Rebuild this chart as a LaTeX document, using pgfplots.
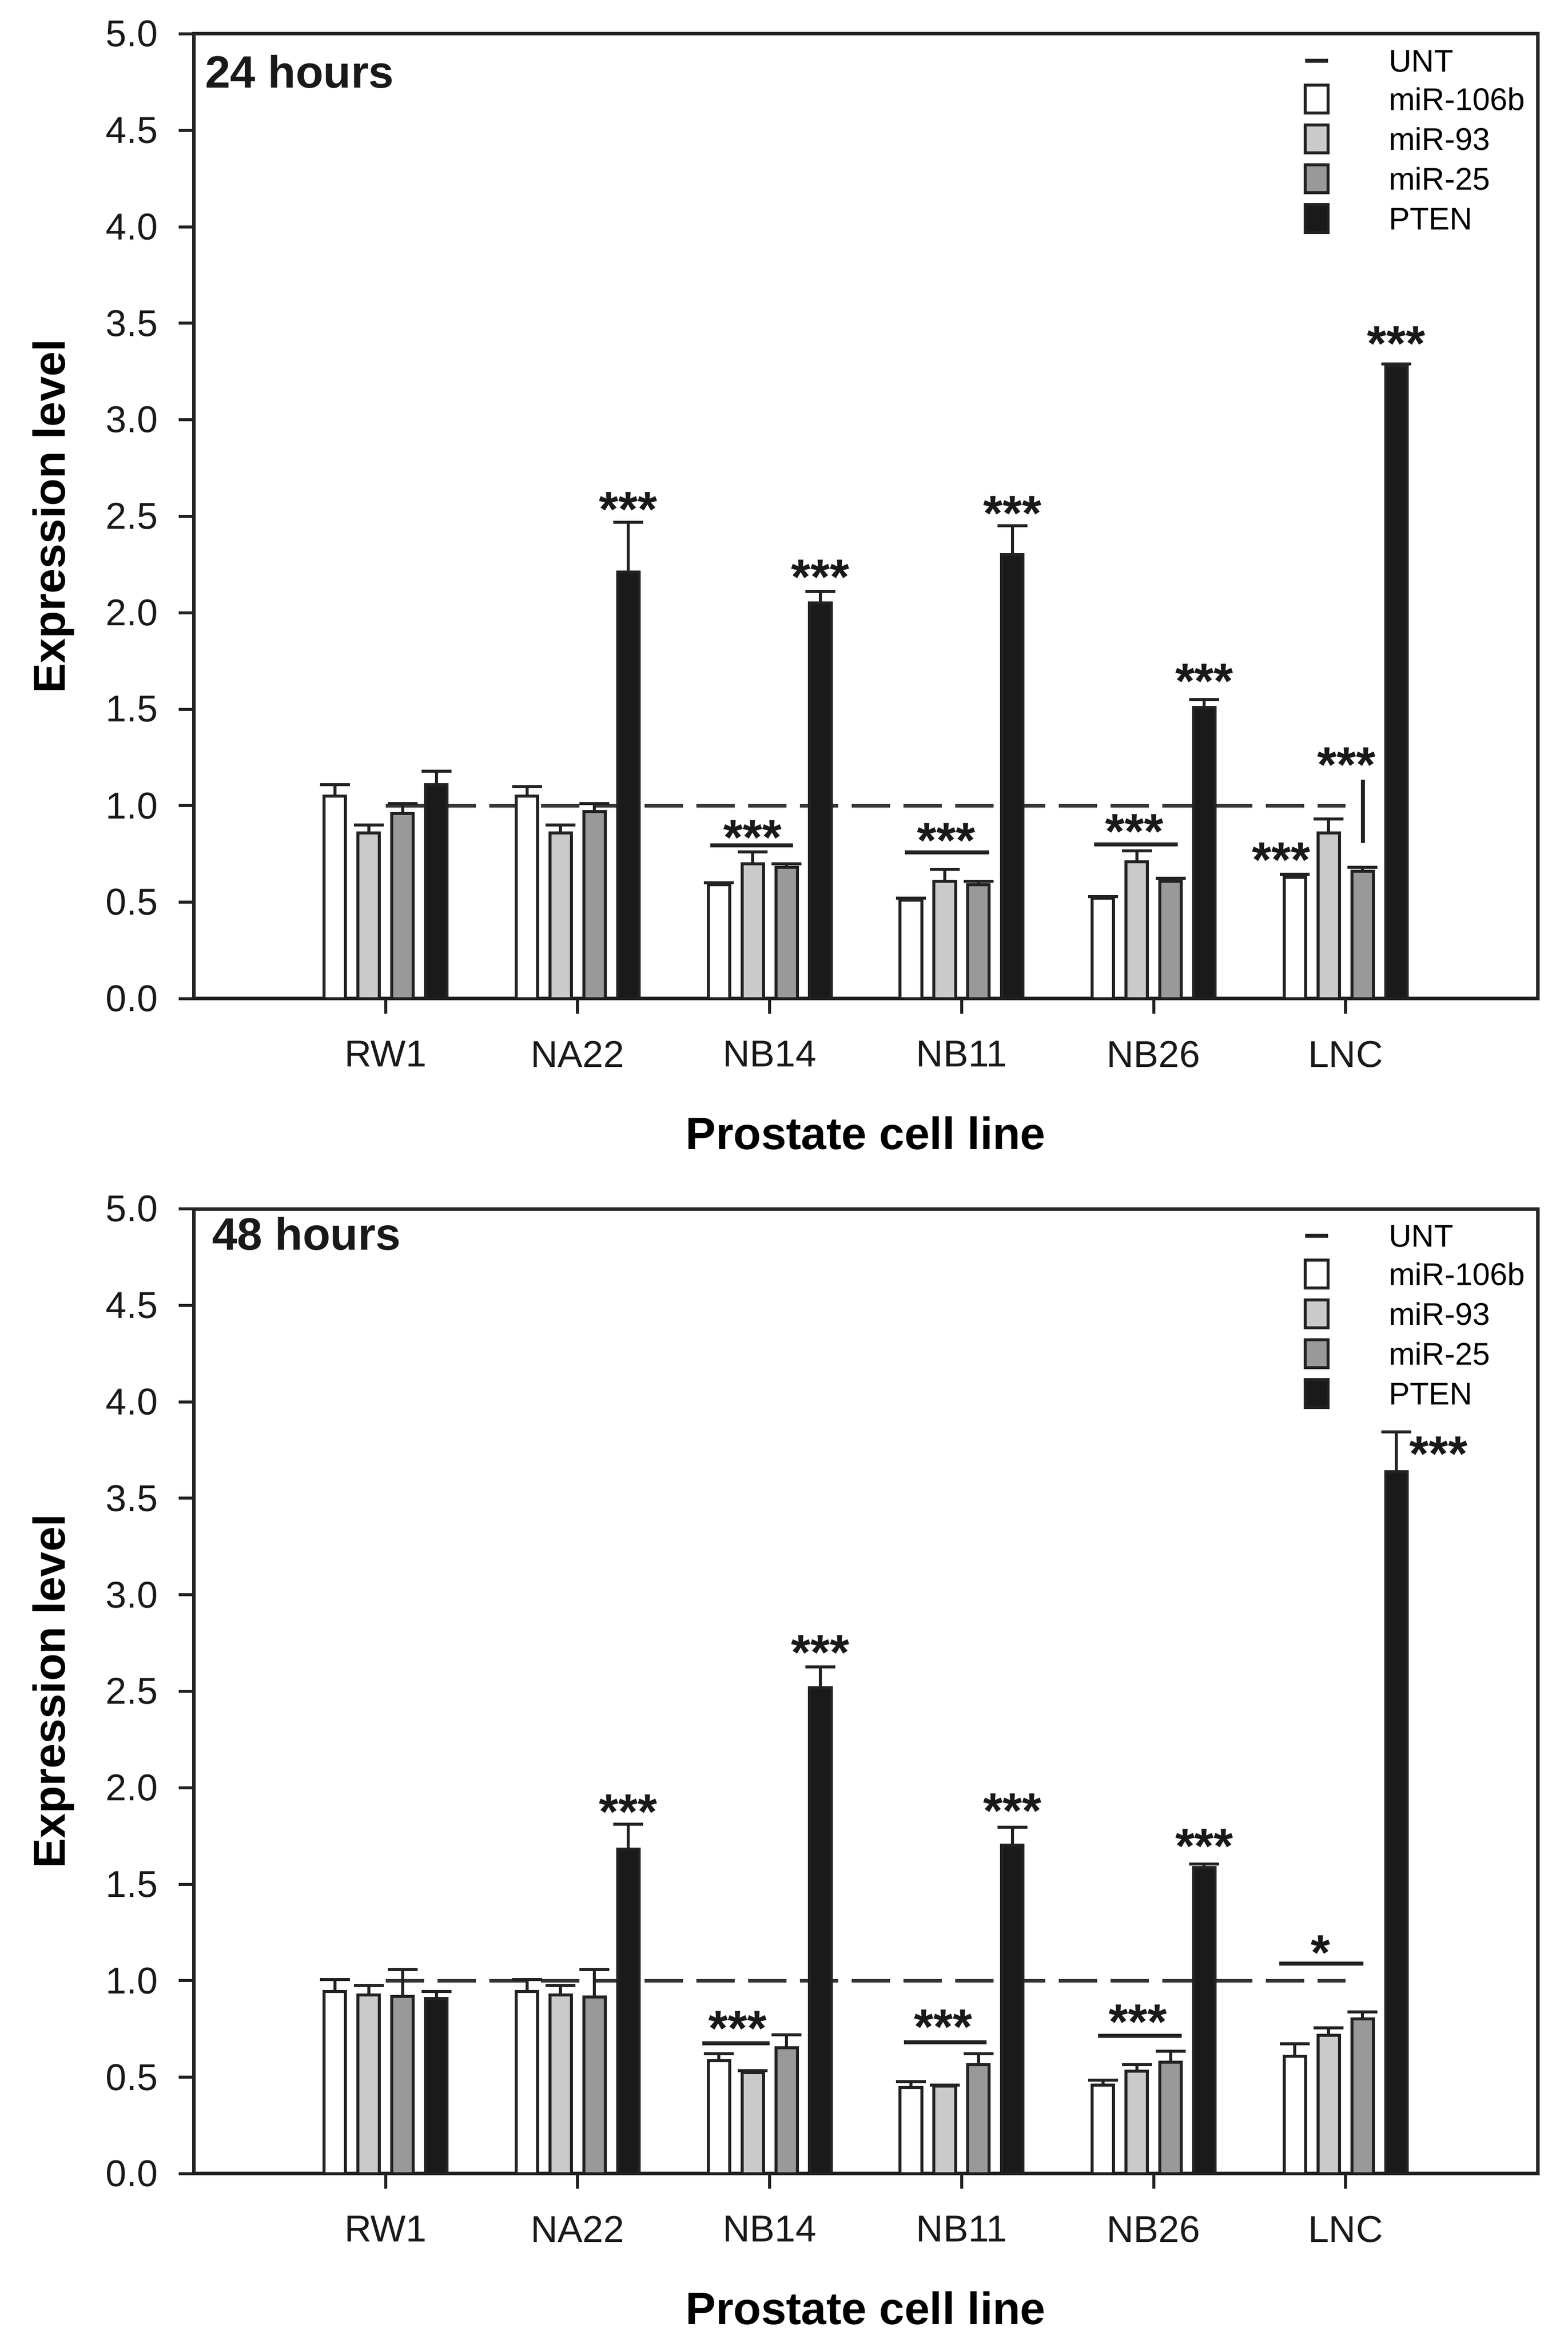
\documentclass[border=0pt]{standalone}
\usepackage{fontspec}
\setmainfont{Liberation Sans}
\usepackage{pgfplots}
\usepackage{pgfplotstable}
\pgfplotsset{compat=1.18}
\definecolor{cw}{RGB}{255,255,255}
\definecolor{cl}{RGB}{202,202,202}
\definecolor{cm}{RGB}{153,153,153}
\definecolor{cb}{RGB}{26,26,26}
\definecolor{edge}{RGB}{34,34,34}
\definecolor{dash}{RGB}{55,55,55}

% 24 hours
\pgfplotstableread{
x w we l le m me b be
1 1.05 0.06 0.86 0.04 0.96 0.05 1.11 0.07
2 1.05 0.05 0.86 0.04 0.97 0.04 2.21 0.26
3 0.59 0.01 0.70 0.06 0.68 0.02 2.05 0.06
4 0.51 0.01 0.61 0.06 0.59 0.02 2.30 0.15
5 0.52 0.01 0.71 0.055 0.61 0.015 1.51 0.04
6 0.63 0.015 0.86 0.07 0.66 0.02 3.28 0.01
}\tA
% 48 hours
\pgfplotstableread{
x w we l le m me b be
1 0.945 0.06 0.926 0.05 0.918 0.14 0.907 0.037
2 0.945 0.06 0.926 0.05 0.915 0.143 1.683 0.127
3 0.586 0.036 0.524 0.01 0.653 0.066 2.518 0.108
4 0.446 0.031 0.454 0.006 0.565 0.058 1.703 0.092
5 0.46 0.026 0.531 0.034 0.578 0.057 1.587 0.018
6 0.61 0.063 0.717 0.038 0.802 0.036 3.638 0.207
}\tB

\pgfplotsset{
 panel/.style={
  scale only axis, width=270pt, height=193.8pt,
  xmin=0, xmax=7, ymin=0, ymax=5,
  axis line style={line width=0.7pt, draw=edge},
  xtick={1,2,3,4,5,6}, xticklabels={RW1,NA22,NB14,NB11,NB26,LNC},
  ytick={0,0.5,1,1.5,2,2.5,3,3.5,4,4.5,5},
  tick align=outside, tick pos=left,
  major tick style={line width=0.6pt, draw=edge},
  major tick length=3pt,
  /pgf/number format/assume math mode=true,
  tick label style={font=\fontsize{7.5}{8.5}\selectfont, inner sep=0pt, text=black!90},
  yticklabel style={xshift=-4pt, /pgf/number format/fixed, /pgf/number format/fixed zerofill, /pgf/number format/precision=1},
  xticklabel style={yshift=-5.3pt},
  ylabel={Expression level},
  ylabel style={font=\bfseries\fontsize{9}{10}\selectfont, at={(axis description cs:-0.0956,0.5)}, anchor=base, inner sep=0pt},
  xlabel={Prostate cell line},
  xlabel style={font=\bfseries\fontsize{9.1}{10}\selectfont, at={(axis description cs:0.5,-0.156)}, anchor=base, inner sep=0pt},
  legend cell align=left,
  legend style={at={(0.8256,0.9868)}, anchor=north west, draw=none, fill=none,
    inner sep=0pt, outer sep=0pt, row sep=1.8pt, column sep=11.8pt,
    font=\fontsize{6.3}{7}\selectfont,
    nodes={inner sep=0pt, text height=4.5pt, text depth=0pt}},
 },
 bars/.style={ybar, bar width=0.112, bar shift=0pt, draw=edge, line width=0.6pt,
  /pgfplots/error bars/y dir=plus, /pgfplots/error bars/y explicit,
  /pgfplots/error bars/error bar style={line width=0.6pt, draw=edge},
  /pgfplots/error bars/error mark options={rotate=90, line width=0.6pt, mark size=3pt, draw=edge},
  legend image code/.code={\draw[##1, line width=0.6pt] (0pt,-2.8pt) rectangle (4.6pt,2.8pt);}},
 unt/.style={line width=0.75pt, draw=dash, dash pattern=on 7.7pt off 2.7pt,
  legend image code/.code={\path[draw=none,fill=none] (0pt,-2.8pt) rectangle (4.6pt,2.8pt); \draw[solid, line width=0.8pt, draw=edge] (0pt,0pt) -- (4.6pt,0pt);}},
 brk/.style={forget plot, line width=0.8pt, draw=edge},
}
\tikzset{star/.style={anchor=north, inner sep=0pt, font=\bfseries\fontsize{10}{10}\selectfont, text=black!90},
 panlab/.style={anchor=base west, inner sep=0pt, font=\bfseries\fontsize{9.1}{10}\selectfont, text=black!90}}

\begin{document}
\begin{tikzpicture}[x=1pt,y=1pt]
\path[use as bounding box] (0,0) rectangle (315,470.6);
% ---------- 24 hours ----------
\begin{axis}[panel, at={(38.9pt,270.0pt)}, anchor=south west]
\addplot[unt] coordinates {(1,1) (6,1)};
\addlegendentry{UNT}
\addplot[bars, fill=cw] table[x expr=\thisrow{x}-0.264, y=w, y error plus=we] {\tA};
\addlegendentry{miR-106b}
\addplot[bars, fill=cl] table[x expr=\thisrow{x}-0.088, y=l, y error plus=le] {\tA};
\addlegendentry{miR-93}
\addplot[bars, fill=cm] table[x expr=\thisrow{x}+0.088, y=m, y error plus=me] {\tA};
\addlegendentry{miR-25}
\addplot[bars, fill=cb] table[x expr=\thisrow{x}+0.264, y=b, y error plus=be] {\tA};
\addlegendentry{PTEN}
% significance brackets
\addplot[brk] coordinates {(2.692,0.795) (3.122,0.795)};
\addplot[brk] coordinates {(3.705,0.758) (4.142,0.758)};
\addplot[brk] coordinates {(4.690,0.800) (5.125,0.800)};
\addplot[brk] coordinates {(6.09,0.807) (6.09,1.135)};
\node[star] at (axis cs:2.264,2.63) {***};
\node[star] at (axis cs:3.264,2.28) {***};
\node[star] at (axis cs:4.264,2.61) {***};
\node[star] at (axis cs:5.264,1.74) {***};
\node[star] at (axis cs:6.264,3.49) {***};
\node[star] at (axis cs:2.912,0.93) {***};
\node[star] at (axis cs:3.920,0.915) {***};
\node[star] at (axis cs:4.900,0.96) {***};
\node[star] at (axis cs:5.664,0.814) {***};
\node[star] at (axis cs:6.005,1.307) {***};
\node[panlab] at (rel axis cs:0.0078,0.9438) {24 hours};
\end{axis}
% ---------- 48 hours ----------
\begin{axis}[panel, at={(38.9pt,34.0pt)}, anchor=south west]
\addplot[unt] coordinates {(1,1) (6,1)};
\addlegendentry{UNT}
\addplot[bars, fill=cw] table[x expr=\thisrow{x}-0.264, y=w, y error plus=we] {\tB};
\addlegendentry{miR-106b}
\addplot[bars, fill=cl] table[x expr=\thisrow{x}-0.088, y=l, y error plus=le] {\tB};
\addlegendentry{miR-93}
\addplot[bars, fill=cm] table[x expr=\thisrow{x}+0.088, y=m, y error plus=me] {\tB};
\addlegendentry{miR-25}
\addplot[bars, fill=cb] table[x expr=\thisrow{x}+0.264, y=b, y error plus=be] {\tB};
\addlegendentry{PTEN}
\addplot[brk] coordinates {(2.650,0.676) (3.000,0.676)};
\addplot[brk] coordinates {(3.700,0.681) (4.130,0.681)};
\addplot[brk] coordinates {(4.710,0.715) (5.147,0.715)};
\addplot[brk] coordinates {(5.655,1.090) (6.093,1.090)};
\node[star] at (axis cs:2.264,1.97) {***};
\node[star] at (axis cs:3.264,2.795) {***};
\node[star] at (axis cs:4.264,1.975) {***};
\node[star] at (axis cs:5.264,1.79) {***};
\node[star] at (axis cs:6.484,3.825) {***};
\node[star] at (axis cs:2.834,0.846) {***};
\node[star] at (axis cs:3.904,0.855) {***};
\node[star] at (axis cs:4.917,0.88) {***};
\node[star] at (axis cs:5.870,1.24) {*};
\node[panlab] at (rel axis cs:0.0131,0.9572) {48 hours};
\end{axis}
\end{tikzpicture}
\end{document}
